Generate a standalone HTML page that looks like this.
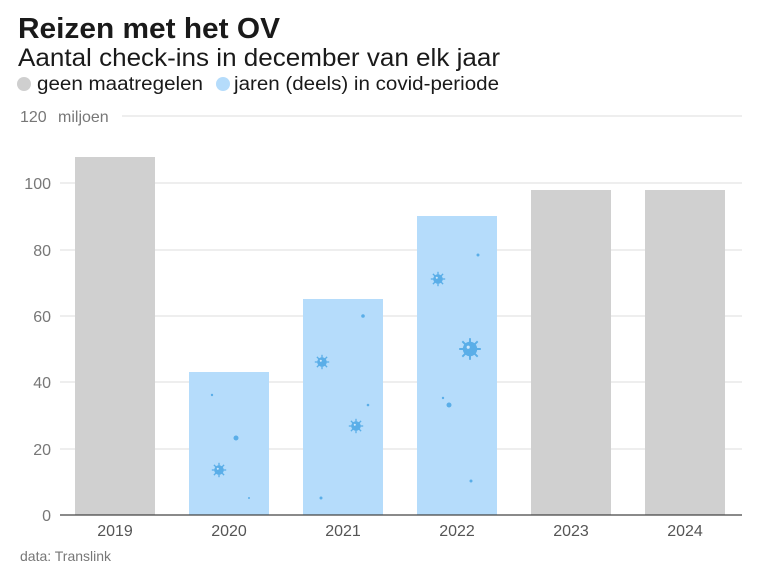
<!DOCTYPE html>
<html><head><style>
body{margin:0;background:#fff;width:768px;height:576px;overflow:hidden;font-family:"Liberation Sans",sans-serif}
</style></head><body>
<svg width="768" height="576" xmlns="http://www.w3.org/2000/svg" font-family="Liberation Sans, sans-serif">
<defs>
<g id="v">
<g stroke="#5aaee8" stroke-width="1.6">
<line x1="0" y1="-9" x2="0" y2="9"/><line x1="-9" y1="0" x2="9" y2="0"/>
<line x1="-6.4" y1="-6.4" x2="6.4" y2="6.4"/><line x1="-6.4" y1="6.4" x2="6.4" y2="-6.4"/>
</g>
<circle r="6" fill="#5aaee8"/><circle cx="-1.5" cy="-1.5" r="1.3" fill="#cfe8fc"/>
</g>
</defs>
<text x="18" y="38" font-size="29" font-weight="bold" fill="#1a1a1a" textLength="262" lengthAdjust="spacingAndGlyphs">Reizen met het OV</text>
<text x="18" y="66" font-size="25" fill="#1a1a1a" textLength="482" lengthAdjust="spacingAndGlyphs">Aantal check-ins in december van elk jaar</text>
<circle cx="24" cy="84" r="7" fill="#cfcfcf"/>
<text x="37" y="90" font-size="19" fill="#1a1a1a" textLength="166" lengthAdjust="spacingAndGlyphs">geen maatregelen</text>
<circle cx="223" cy="84" r="7" fill="#b5dcfb"/>
<text x="234" y="90" font-size="19" fill="#1a1a1a" textLength="265" lengthAdjust="spacingAndGlyphs">jaren (deels) in covid-periode</text>
<g stroke="#dcdcdc" stroke-width="1">
<line x1="122" y1="116" x2="742" y2="116"/>
<line x1="60" y1="183" x2="742" y2="183"/>
<line x1="60" y1="250" x2="742" y2="250"/>
<line x1="60" y1="316" x2="742" y2="316"/>
<line x1="60" y1="382" x2="742" y2="382"/>
<line x1="60" y1="449" x2="742" y2="449"/>
</g>
<g font-size="16" fill="#777">
<text x="20" y="122">120</text><text x="58" y="122">miljoen</text>
<text x="51" y="189" text-anchor="end">100</text>
<text x="51" y="256" text-anchor="end">80</text>
<text x="51" y="322" text-anchor="end">60</text>
<text x="51" y="388" text-anchor="end">40</text>
<text x="51" y="455" text-anchor="end">20</text>
<text x="51" y="521" text-anchor="end">0</text>
</g>
<rect x="75" y="157" width="80" height="358" fill="#d0d0d0"/>
<rect x="189" y="372" width="80" height="143" fill="#b5dcfb"/>
<rect x="303" y="299" width="80" height="216" fill="#b5dcfb"/>
<rect x="417" y="216" width="80" height="299" fill="#b5dcfb"/>
<rect x="531" y="190" width="80" height="325" fill="#d0d0d0"/>
<rect x="645" y="190" width="80" height="325" fill="#d0d0d0"/>
<use href="#v" transform="translate(219,470) scale(0.8)"/>
<use href="#v" transform="translate(322,362) scale(0.8)"/>
<use href="#v" transform="translate(356,426) scale(0.8)"/>
<use href="#v" transform="translate(438,279) scale(0.8)"/>
<use href="#v" transform="translate(470,349) scale(1.2)"/>
<g fill="#5aaee8">
<circle cx="236" cy="438" r="2.5"/><circle cx="212" cy="395" r="1.2"/><circle cx="249" cy="498" r="1"/>
<circle cx="363" cy="316" r="1.8"/><circle cx="321" cy="498" r="1.5"/><circle cx="368" cy="405" r="1.3"/>
<circle cx="449" cy="405" r="2.5"/><circle cx="443" cy="398" r="1.2"/><circle cx="478" cy="255" r="1.5"/><circle cx="471" cy="481" r="1.5"/>
</g>
<line x1="60" y1="515" x2="742" y2="515" stroke="#444" stroke-width="1.2"/>
<g font-size="16" fill="#555" text-anchor="middle">
<text x="115" y="536">2019</text><text x="229" y="536">2020</text><text x="343" y="536">2021</text>
<text x="457" y="536">2022</text><text x="571" y="536">2023</text><text x="685" y="536">2024</text>
</g>
<text x="20" y="561" font-size="14" fill="#777">data: Translink</text>
</svg>
</body></html>
